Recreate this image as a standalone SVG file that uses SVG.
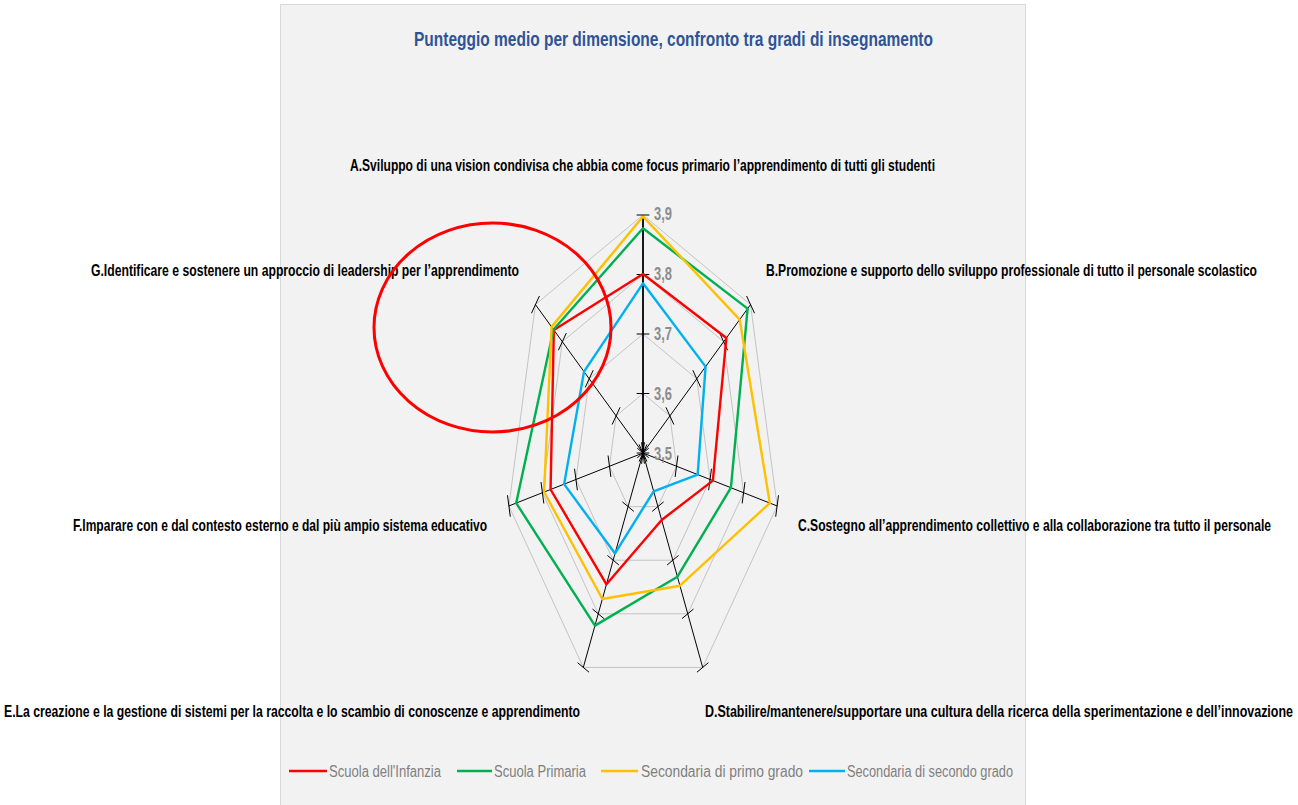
<svg xmlns="http://www.w3.org/2000/svg" xmlns:xlink="http://www.w3.org/1999/xlink" width="1298" height="805" viewBox="0 0 1298 805">
<style>
.lbl{font-family:"Liberation Sans",Arial,sans-serif;font-weight:bold;font-size:16.5px;fill:#000}
.ttl{font-family:"Liberation Sans",Arial,sans-serif;font-weight:bold;font-size:20px;fill:#2f5496}
.val{font-family:"Liberation Sans",Arial,sans-serif;font-weight:bold;font-size:17.5px;fill:#8c8c8c}
.leg{font-family:"Liberation Sans",Arial,sans-serif;font-size:16px;fill:#7f7f7f}
.grid{fill:none;stroke:#c4c4c4;stroke-width:1;vector-effect:non-scaling-stroke}
.ax{stroke:#000;stroke-width:1;vector-effect:non-scaling-stroke}
.s{fill:none;stroke-width:2.4;stroke-linejoin:round;vector-effect:non-scaling-stroke}
.leg-line{stroke-width:2.6}
</style>
<defs>
<g id="axis">
<line class="ax" x1="0" y1="0" x2="0" y2="-238"/>
<line class="ax" x1="-11" y1="0" x2="11" y2="0"/>
<line class="ax" x1="-11" y1="-59.5" x2="11" y2="-59.5"/>
<line class="ax" x1="-11" y1="-119" x2="11" y2="-119"/>
<line class="ax" x1="-11" y1="-178.5" x2="11" y2="-178.5"/>
<line class="ax" x1="-11" y1="-238" x2="11" y2="-238"/>
</g>
</defs>
<rect x="280.5" y="4.5" width="745" height="820" fill="#f2f2f2" stroke="#d9d9d9" stroke-width="1"/>
<text class="ttl" x="414" y="46" textLength="519" lengthAdjust="spacingAndGlyphs">Punteggio medio per dimensione, confronto tra gradi di insegnamento</text>
<g id="chart" transform="translate(643,453) scale(0.578,1)">
<g id="grid">
<polygon class="grid" points="0,-238 186.08,-148.39 232.03,52.96 103.26,214.43 -103.26,214.43 -232.03,52.96 -186.08,-148.39"/>
<polygon class="grid" points="0,-178.5 139.56,-111.29 174.03,39.72 77.45,160.82 -77.45,160.82 -174.03,39.72 -139.56,-111.29"/>
<polygon class="grid" points="0,-119 93.04,-74.2 116.02,26.48 51.63,107.22 -51.63,107.22 -116.02,26.48 -93.04,-74.2"/>
<polygon class="grid" points="0,-59.5 46.52,-37.1 58.01,13.24 25.82,53.61 -25.82,53.61 -58.01,13.24 -46.52,-37.1"/>
</g>
<g id="axes">
<use xlink:href="#axis" transform="rotate(51.4286)"/>
<use xlink:href="#axis" transform="rotate(102.857)"/>
<use xlink:href="#axis" transform="rotate(154.286)"/>
<use xlink:href="#axis" transform="rotate(205.714)"/>
<use xlink:href="#axis" transform="rotate(257.143)"/>
<use xlink:href="#axis" transform="rotate(308.571)"/>
<use xlink:href="#axis"/>
<line class="ax" x1="0" y1="0" x2="0" y2="-238" style="stroke-width:1.6"/>
</g>
<g id="series">
<polygon id="s-infanzia" class="s" stroke="#ff0000" points="0,-179 144.25,-115.03 120.89,27.59 32.28,67.03 -63.22,131.27 -159.89,36.49 -154.26,-123.01"/>
<polygon id="s-primaria" class="s" stroke="#00b050" points="0,-224.7 180.99,-144.34 152.09,34.71 59.57,123.7 -83.13,172.63 -219.36,50.07 -154.8,-123.45"/>
<polygon id="s-primo" class="s" stroke="#ffc000" points="0,-236.5 167.31,-133.43 219.36,50.07 63.91,132.71 -70.29,145.96 -171.1,39.05 -158.16,-126.13"/>
<polygon id="s-secondo" class="s" stroke="#00b0f0" points="0,-169.7 108.28,-86.35 94.57,21.58 18.44,38.29 -48.38,100.46 -136.49,31.15 -102.03,-81.37"/>
</g>
</g>
<g id="values">
<text class="val" x="654" y="220" textLength="18" lengthAdjust="spacingAndGlyphs">3,9</text>
<text class="val" x="654" y="280" textLength="18" lengthAdjust="spacingAndGlyphs">3,8</text>
<text class="val" x="654" y="339.5" textLength="18" lengthAdjust="spacingAndGlyphs">3,7</text>
<text class="val" x="654" y="399.5" textLength="18" lengthAdjust="spacingAndGlyphs">3,6</text>
<text class="val" x="654" y="460" textLength="18" lengthAdjust="spacingAndGlyphs">3,5</text>
</g>
<g id="labels">
<text id="lbl-A" class="lbl" x="350" y="171" textLength="585" lengthAdjust="spacingAndGlyphs">A.Sviluppo di una vision condivisa che abbia come focus primario l’apprendimento di tutti gli studenti</text>
<text id="lbl-B" class="lbl" x="766" y="276" textLength="491" lengthAdjust="spacingAndGlyphs">B.Promozione e supporto dello sviluppo professionale di tutto il personale scolastico</text>
<text id="lbl-C" class="lbl" x="798" y="531" textLength="473" lengthAdjust="spacingAndGlyphs">C.Sostegno all’apprendimento collettivo e alla collaborazione tra tutto il personale</text>
<text id="lbl-D" class="lbl" x="705" y="717" textLength="588" lengthAdjust="spacingAndGlyphs">D.Stabilire/mantenere/supportare una cultura della ricerca della sperimentazione e dell’innovazione</text>
<text id="lbl-E" class="lbl" x="4" y="717" textLength="576" lengthAdjust="spacingAndGlyphs">E.La creazione e la gestione di sistemi per la raccolta e lo scambio di conoscenze e apprendimento</text>
<text id="lbl-F" class="lbl" x="73" y="531" textLength="414" lengthAdjust="spacingAndGlyphs">F.Imparare con e dal contesto esterno e dal più ampio sistema educativo</text>
<text id="lbl-G" class="lbl" x="91" y="276" textLength="428" lengthAdjust="spacingAndGlyphs">G.Identificare e sostenere un approccio di leadership per l’apprendimento</text>
</g>
<g id="legend">
<line class="leg-line" x1="289" y1="771" x2="327" y2="771" stroke="#ff0000"/>
<text class="leg" x="329" y="777" textLength="112" lengthAdjust="spacingAndGlyphs">Scuola dell'Infanzia</text>
<line class="leg-line" x1="457" y1="771" x2="492" y2="771" stroke="#00b050"/>
<text class="leg" x="494" y="777" textLength="92" lengthAdjust="spacingAndGlyphs">Scuola Primaria</text>
<line class="leg-line" x1="601" y1="771" x2="638" y2="771" stroke="#ffc000"/>
<text class="leg" x="641" y="777" textLength="162" lengthAdjust="spacingAndGlyphs">Secondaria di primo grado</text>
<line class="leg-line" x1="809" y1="771" x2="845" y2="771" stroke="#00b0f0"/>
<text class="leg" x="847" y="777" textLength="166" lengthAdjust="spacingAndGlyphs">Secondaria di secondo grado</text>
</g>
<ellipse id="highlight" cx="492.5" cy="327.5" rx="118.5" ry="104.5" fill="none" stroke="#ff0000" stroke-width="3"/>
</svg>
